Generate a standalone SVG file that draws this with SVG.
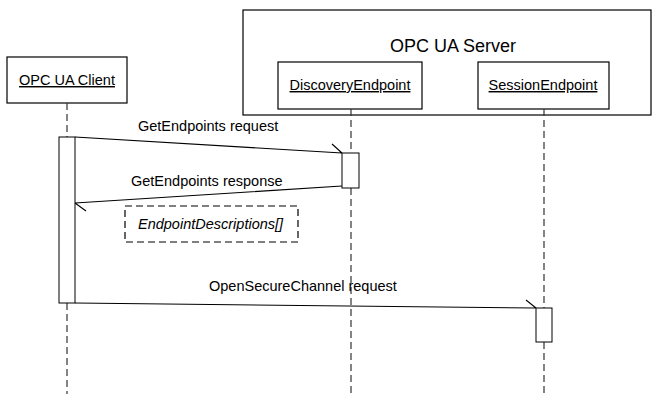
<svg xmlns="http://www.w3.org/2000/svg" width="652" height="394" viewBox="0 0 652 394">
<style>
.box{fill:#fff;stroke:#000;stroke-width:1.2}
.act{fill:#fff;stroke:#000;stroke-width:1}
.life{stroke:#333;stroke-width:1.2;stroke-dasharray:7 4;fill:none}
.msg{stroke:#000;stroke-width:1.1;fill:none}
.t{font-family:"Liberation Sans",Arial,sans-serif;font-size:14.5px;fill:#000}
.u{text-decoration:underline}
</style>
<rect width="652" height="394" fill="#fff"/>
<g id="server">
<rect class="box" x="243" y="10" width="408" height="105"/>
<text class="t" x="453" y="52" text-anchor="middle" style="font-size:18px">OPC UA Server</text>
</g>
<g id="client">
<rect class="box" x="7" y="57" width="120" height="46"/>
<text class="t u" x="67" y="85" text-anchor="middle">OPC UA Client</text>
</g>
<g id="discovery">
<rect class="box" x="278" y="62" width="144" height="47"/>
<text class="t u" x="350" y="90" text-anchor="middle">DiscoveryEndpoint</text>
</g>
<g id="session">
<rect class="box" x="478" y="62" width="131" height="47"/>
<text class="t u" x="543" y="90" text-anchor="middle">SessionEndpoint</text>
</g>
<g id="lifelines">
<path class="life" d="M67 103V137M67 303V394"/>
<path class="life" d="M351 109V153M351 188V394"/>
<path class="life" d="M544 109V308M544 342V394"/>
</g>
<g id="activations">
<rect class="act" x="59" y="137" width="16" height="166"/>
<rect class="act" x="342" y="153" width="17" height="35"/>
<rect class="act" x="536" y="308" width="16" height="34"/>
</g>
<g id="connectors">
<path class="msg" d="M75 137L342 153M332 144L342 153"/>
<path class="msg" d="M342 186L75 203M75 203L86 211"/>
<path class="msg" d="M75 303L536 308M526 300L536 308"/>
</g>
<g id="labels">
<text class="t" x="138" y="131">GetEndpoints request</text>
<rect x="130" y="173" width="156" height="16" fill="#fff"/>
<text class="t" x="131" y="186">GetEndpoints response</text>
<text class="t" x="209" y="291">OpenSecureChannel request</text>
</g>
<g id="note">
<rect x="125" y="206" width="173" height="36" fill="#fff" stroke="#000" stroke-width="1.2" stroke-dasharray="7 4"/>
<text class="t" x="138" y="229" style="font-style:italic">EndpointDescriptions[]</text>
</g>
</svg>
